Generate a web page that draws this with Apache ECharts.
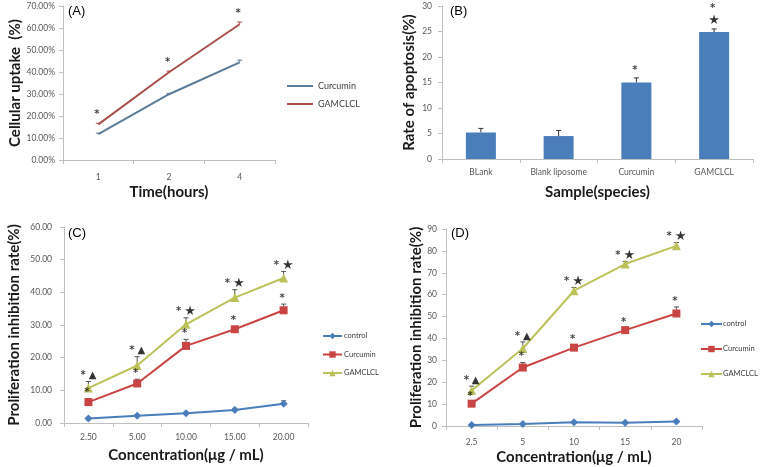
<!DOCTYPE html>
<html>
<head>
<meta charset="utf-8">
<script src="https://cdn.jsdelivr.net/npm/echarts@6/dist/echarts.min.js"></script>
<style>
  html, body { margin: 0; padding: 0; background: #fff; }
  #main { width: 763px; height: 467px; }
</style>
</head>
<body>
<div id="main"></div>
<script>
// (A) cellular uptake
var timeCats = ['1', '2', '4'];
var uptakeCur = [11.8, 29.9, 44.4];
var uptakeCurErr = [0.4, 0.4, 1.0];
var uptakeGam = [16.2, 39.9, 61.7];
var uptakeGamErr = [0.5, 0.5, 1.0];
var uptakeMarks = ['*', '*', '*'];

// (B) apoptosis
var sampleCats = ['BLank', 'Blank liposome', 'Curcumin', 'GAMCLCL'];
var apoptosis = [5.2, 4.5, 15.0, 24.9];
var apoptosisErr = [0.8, 1.1, 0.9, 0.6];
var apoptosisMarks = ['', '', '*', '*\n★'];

// (C) proliferation inhibition
var concCatsC = ['2.50', '5.00', '10.00', '15.00', '20.00'];
var controlC = [1.4, 2.2, 3.0, 4.0, 5.9];
var controlErrC = [0.3, 0.3, 0.3, 0.5, 0.9];
var curC = [6.4, 12.1, 23.6, 28.7, 34.5];
var curErrC = [1.0, 1.3, 2.0, 0.8, 1.9];
var gamC = [10.7, 17.6, 30.2, 38.4, 44.4];
var gamErrC = [2.0, 2.7, 2.0, 2.4, 2.0];
var curMarksC = ['*', '*', '*', '*', '*'];
var gamMarksC = ['*▲', '*▲', '*★', '*★', '*★'];

// (D) proliferation inhibition
var concCatsD = ['2.5', '5', '10', '15', '20'];
var controlD = [0.5, 0.9, 1.7, 1.5, 2.1];
var controlErrD = [0.2, 0.2, 0.3, 0.3, 0.4];
var curD = [10.2, 26.7, 35.8, 43.8, 51.4];
var curErrD = [0.8, 2.3, 1.0, 0.8, 3.0];
var gamD = [16.2, 35.4, 61.8, 74.0, 82.3];
var gamErrD = [2.0, 3.0, 1.5, 1.2, 1.5];
var curMarksD = ['*', '*', '*', '*', '*'];
var gamMarksD = ['*▲', '*▲', '*★', '*★', '*★'];

var FONT = 'Lato';
var AXIS = '#bfbfbf';
var LABEL = '#595959';
var BLUE = '#4a7ebb', RED = '#c94543', GREEN = '#bcc15a';

var chart = echarts.init(document.getElementById('main'));

function catAxis(grid, data, margin, name, nameGap) {
  return {
    gridIndex: grid, type: 'category', data: data,
    axisLine: { show: true, lineStyle: { color: AXIS } },
    axisTick: { show: true, length: 4, lineStyle: { color: AXIS } },
    axisLabel: { color: LABEL, fontSize: 8.5, margin: margin, fontFamily: FONT, interval: 0 },
    name: name, nameLocation: 'middle', nameGap: nameGap,
    nameTextStyle: { fontSize: 15, fontWeight: 'bold', color: '#1a1a1a', fontFamily: FONT }
  };
}

function valAxis(grid, max, step, fmt, margin, name, nameGap) {
  return {
    gridIndex: grid, type: 'value', min: 0, max: max, interval: step,
    splitLine: { show: false },
    axisLine: { show: true, lineStyle: { color: AXIS } },
    axisTick: { show: true, length: 4, lineStyle: { color: AXIS } },
    axisLabel: { color: LABEL, fontSize: 8.5, margin: margin, fontFamily: FONT, formatter: fmt },
    name: name, nameLocation: 'middle', nameGap: nameGap,
    nameTextStyle: { fontSize: 15, fontWeight: 'bold', color: '#1a1a1a', fontFamily: FONT }
  };
}

function lineSeries(name, idx, data, color, symbol, size) {
  return {
    name: name, type: 'line', xAxisIndex: idx, yAxisIndex: idx, data: data,
    symbol: symbol, symbolSize: size, showSymbol: symbol !== 'none',
    lineStyle: { color: color, width: 2 }, itemStyle: { color: color },
    z: 3
  };
}

function errSeries(idx, means, errs, color) {
  return {
    type: 'custom', xAxisIndex: idx, yAxisIndex: idx, silent: true, z: 2,
    data: means.map(function (m, i) { return [i, m, m + errs[i]]; }),
    renderItem: function (params, api) {
      var p0 = api.coord([api.value(0), api.value(1)]);
      var p1 = api.coord([api.value(0), api.value(2)]);
      var st = { stroke: color, lineWidth: 1 };
      return {
        type: 'group', children: [
          { type: 'line', shape: { x1: p0[0], y1: p0[1], x2: p1[0], y2: p1[1] }, style: st },
          { type: 'line', shape: { x1: p1[0] - 2.5, y1: p1[1], x2: p1[0] + 2.5, y2: p1[1] }, style: st }
        ]
      };
    }
  };
}

// '*' small and bold, triangle a bit smaller than the star
function richMark(m) {
  return m.split('\n').map(function (line) {
    return line.split('').map(function (ch) {
      if (ch === '*') return '{a|*}';
      if (ch === '▲') return '{t|▲}';
      return '{b|' + ch + '}';
    }).join('');
  }).join('\n');
}

function markSeries(idx, means, errs, marks, dist) {
  return {
    type: 'scatter', xAxisIndex: idx, yAxisIndex: idx, silent: true, z: 5,
    symbolSize: 1, itemStyle: { color: 'rgba(0,0,0,0)' },
    data: means.map(function (m, i) { return [i, m + errs[i]]; }),
    label: {
      show: true, position: 'top', distance: dist,
      formatter: function (p) { return marks[p.dataIndex] ? richMark(marks[p.dataIndex]) : ''; },
      rich: {
        a: { fontSize: 10, fontWeight: 'bold', color: '#111', fontFamily: 'DejaVu Sans', lineHeight: 13, padding: [0, 3, 0, 0] },
        b: { fontSize: 13, color: '#000', fontFamily: 'DejaVu Sans', lineHeight: 13 },
        t: { fontSize: 10, color: '#000', fontFamily: 'DejaVu Sans', lineHeight: 13 }
      }
    }
  };
}

function pct(v) { return v.toFixed(2) + '%'; }
function two(v) { return v.toFixed(2); }
function plain(v) { return String(v); }
function stripPanel(n) { return n.replace(/^[A-D]-/, ''); }

function panelLabel(text, left, top) {
  return { text: text, left: left, top: top, padding: 0,
    textStyle: { fontSize: 13, fontWeight: 'normal', color: '#000', fontFamily: 'Liberation Sans' } };
}

function legendAt(left, top, names, w, h, gap, icon, fontSize, textShift) {
  return {
    orient: 'vertical', left: left, top: top, padding: 0,
    itemWidth: w, itemHeight: h, itemGap: gap, selectedMode: false,
    data: names.map(function (n) { return icon ? { name: n, icon: icon } : { name: n }; }),
    formatter: stripPanel,
    textStyle: { fontSize: fontSize, lineHeight: 10, color: '#404040', fontFamily: FONT,
      overflow: 'none', padding: [0, 0, 0, textShift] }
  };
}

var option = {
  backgroundColor: '#fff',
  animation: false,
  title: [
    panelLabel('(A)', 68, 5),
    panelLabel('(B)', 450, 5),
    panelLabel('(C)', 68, 227),
    panelLabel('(D)', 451, 227)
  ],
  grid: [
    { left: 63, top: 6, width: 212, height: 154 },
    { left: 442, top: 6, width: 311, height: 153 },
    { left: 64, top: 227, width: 244, height: 196 },
    { left: 446, top: 229, width: 256, height: 197 }
  ],
  xAxis: [
    catAxis(0, timeCats, 13, 'Time(hours)', 25),
    catAxis(1, sampleCats, 9, 'Sample(species)', 26),
    catAxis(2, concCatsC, 10, 'Concentration(μg / mL)', 25),
    catAxis(3, concCatsD, 12, 'Concentration(μg / mL)', 24)
  ],
  yAxis: [
    valAxis(0, 70, 10, pct, 8, 'Cellular uptake  (%)', 40),
    valAxis(1, 30, 5, plain, 10, 'Rate of apoptosis(%)', 25),
    valAxis(2, 60, 10, two, 12, 'Proliferation inhibition rate(%)', 42),
    valAxis(3, 90, 10, plain, 9, 'Proliferation inhibition rate(%)', 20)
  ],
  legend: [
    legendAt(287, 81, ['A-Curcumin', 'A-GAMCLCL'], 26, 2, 8, 'rect', 9, 0),
    legendAt(322, 331, ['C-control', 'C-Curcumin', 'C-GAMCLCL'], 19, 8, 8.5, null, 7.5, -3),
    legendAt(700, 319, ['D-control', 'D-Curcumin', 'D-GAMCLCL'], 21, 8, 15, null, 7.5, -4)
  ],
  series: [
    // A
    lineSeries('A-Curcumin', 0, uptakeCur, '#5b7c99', 'none', 0),
    lineSeries('A-GAMCLCL', 0, uptakeGam, '#a9504b', 'none', 0),
    errSeries(0, uptakeCur, uptakeCurErr, '#5b7c99'),
    errSeries(0, uptakeGam, uptakeGamErr, '#a9504b'),
    markSeries(0, uptakeGam, uptakeGamErr, uptakeMarks, 2),
    // B
    {
      type: 'bar', xAxisIndex: 1, yAxisIndex: 1, data: apoptosis, barWidth: 30,
      itemStyle: { color: BLUE }, z: 2
    },
    errSeries(1, apoptosis, apoptosisErr, '#333'),
    markSeries(1, apoptosis, apoptosisErr, apoptosisMarks, 1),
    // C
    lineSeries('C-control', 2, controlC, BLUE, 'diamond', 8),
    lineSeries('C-Curcumin', 2, curC, RED, 'rect', 8),
    lineSeries('C-GAMCLCL', 2, gamC, GREEN, 'triangle', 9),
    errSeries(2, controlC, controlErrC, '#555'),
    errSeries(2, curC, curErrC, '#555'),
    errSeries(2, gamC, gamErrC, '#555'),
    markSeries(2, curC, curErrC, curMarksC, -1),
    markSeries(2, gamC, gamErrC, gamMarksC, -1),
    // D
    lineSeries('D-control', 3, controlD, BLUE, 'diamond', 8),
    lineSeries('D-Curcumin', 3, curD, RED, 'rect', 8),
    lineSeries('D-GAMCLCL', 3, gamD, GREEN, 'triangle', 9),
    errSeries(3, controlD, controlErrD, '#555'),
    errSeries(3, curD, curErrD, '#555'),
    errSeries(3, gamD, gamErrD, '#555'),
    markSeries(3, curD, curErrD, curMarksD, -1),
    markSeries(3, gamD, gamErrD, gamMarksD, -1)
  ]
};

chart.setOption(option);
</script>
</body>
</html>
